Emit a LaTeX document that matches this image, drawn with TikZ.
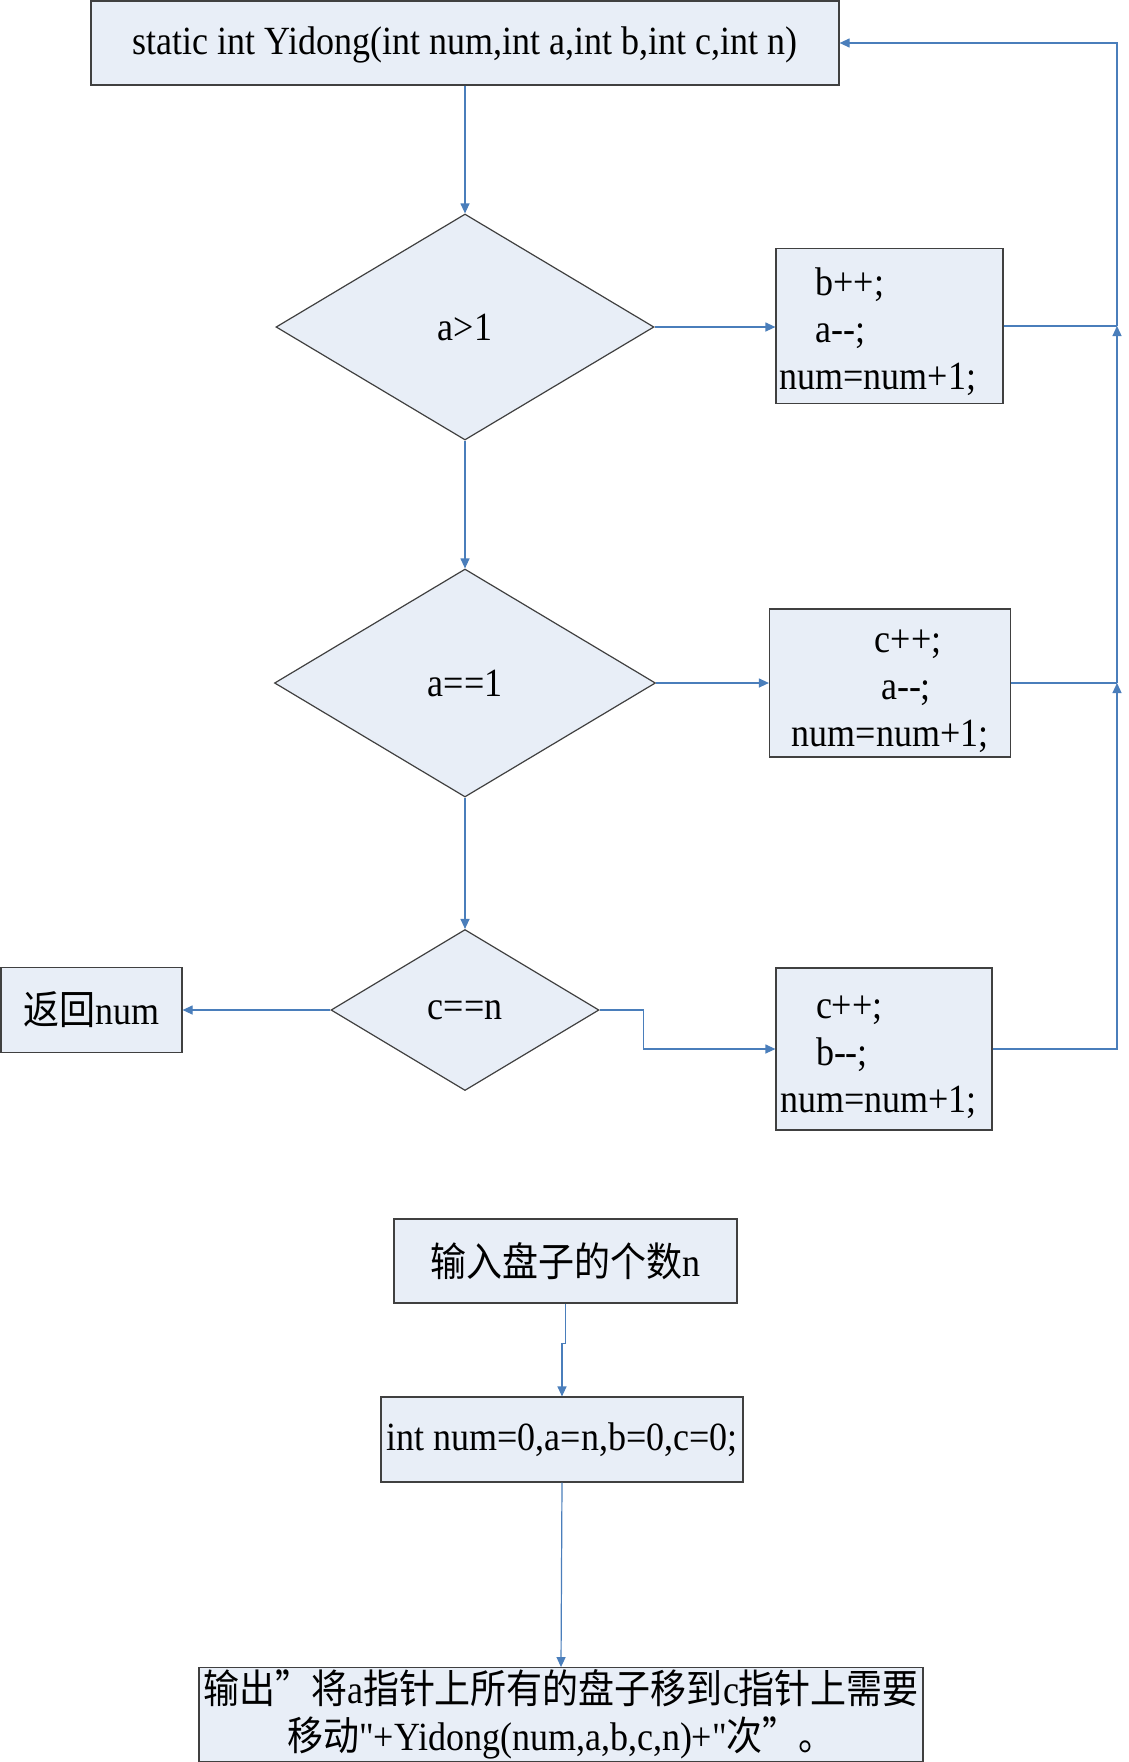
\documentclass[tikz,border=0pt]{standalone}
\usepackage{fontspec}
\setmainfont{Liberation Serif}[FakeStretch=0.9, Ligatures=TeXOff]
\newfontfamily\cjk{Noto Sans CJK SC}[FakeStretch=0.9]
\usetikzlibrary{shapes.geometric,arrows.meta}
\definecolor{boxfill}{RGB}{232,238,247}
\definecolor{linkblue}{RGB}{74,126,187}
\newcommand{\lowstrut}{\rule{0pt}{20pt}}
\begin{document}
\begin{tikzpicture}[x=0.5pt,y=-0.5pt,
  every node/.style={font=\fontsize{20pt}{23.5pt}\selectfont},
  box/.style={draw=black!75, fill=boxfill, line width=0.6pt, inner sep=2pt, rectangle},
  decision/.style={draw=black!75, fill=boxfill, line width=0.6pt, inner sep=0pt, diamond},
  conn/.style={draw=linkblue, line width=0.6pt},
  arr/.style={conn, -{Triangle[length=5pt,width=4.5pt]}}
]
\fill[white] (0,0) rectangle (1129,1762);
\useasboundingbox (0,0) rectangle (1129,1762);

% nodes
\node[box, minimum width=374pt, minimum height=42pt, text depth=2pt] (top) at (465,43)
  {static int Yidong(int num,int a,int b,int c,int n)};
\node[decision, minimum width=189pt, minimum height=113pt] (d1) at (465,327) {a>1};
\node[box, minimum width=113.5pt, minimum height=77.5pt, text width=110pt, align=left, inner sep=0pt] (b1) at (889.5,326)
  {\lowstrut\hspace*{18pt}b++;\\\hspace*{18pt}a-{}-;\\num=num+1;};
\node[decision, minimum width=190.5pt, minimum height=114pt] (d2) at (465,683) {a==1};
\node[box, minimum width=120.5pt, minimum height=72pt, align=center] (b2) at (890,683)
  {\lowstrut\hspace*{18pt}c++;\\\hspace*{16pt}a-{}-;\\num=num+1;};
\node[decision, minimum width=134pt, minimum height=80.5pt] (d3) at (465,1010) {c==n};
\node[box, minimum width=90.5pt, minimum height=42.5pt] (ret) at (91.5,1010) {{\cjk 返回}num};
\node[box, minimum width=108pt, minimum height=81pt, text width=104pt, align=left, inner sep=0pt] (b3) at (884,1049)
  {\lowstrut\hspace*{18pt}c++;\\\hspace*{18pt}b-{}-;\\num=num+1;};
\node[box, minimum width=171.5pt, minimum height=42pt] (inp) at (565.5,1261) {{\cjk 输入盘子的个数}n};
\node[box, minimum width=181pt, minimum height=42.5pt] (init) at (562,1439.5) {int num=0,a=n,b=0,c=0;};
\node[box, minimum width=362pt, minimum height=42.5pt, align=center, inner sep=1pt] (out) at (561,1714.5)
  {{\cjk 输出”将}a{\cjk 指针上所有的盘子移到}c{\cjk 指针上需要}\\{\cjk 移动}"+Yidong(num,a,b,c,n)+"{\cjk 次”。}};

% junctions on the return line
\coordinate (j3) at (1117,1049);
\coordinate (j2) at (1117,683);
\coordinate (j1) at (1117,326);
\coordinate (j0) at (1117,43);

% connectors
\draw[arr] (top.south) -- (d1.north);
\draw[arr] (d1.east) -- (d1.east -| b1.west);
\draw[arr] (d1.south) -- (d2.north);
\draw[arr] (d2.east) -- (d2.east -| b2.west);
\draw[arr] (d2.south) -- (d3.north);
\draw[arr] (d3.west) -- (ret.east);
\draw[arr] (d3.east) -- ++(44,0) |- (b3.west);
\draw[conn] (b1.east) -- (j1);
\draw[conn] (b2.east) -- (j2);
\draw[arr] (b3.east) -- (j3) -- (j2);
\draw[arr] (j2) -- (j1);
\draw[arr] (j1) -- (j0) -- (top.east);
\draw[arr] (inp.south) -- ++(0,40) -| (init.north);
\draw[arr] (init.south) -- (out.north);
\end{tikzpicture}
\end{document}
